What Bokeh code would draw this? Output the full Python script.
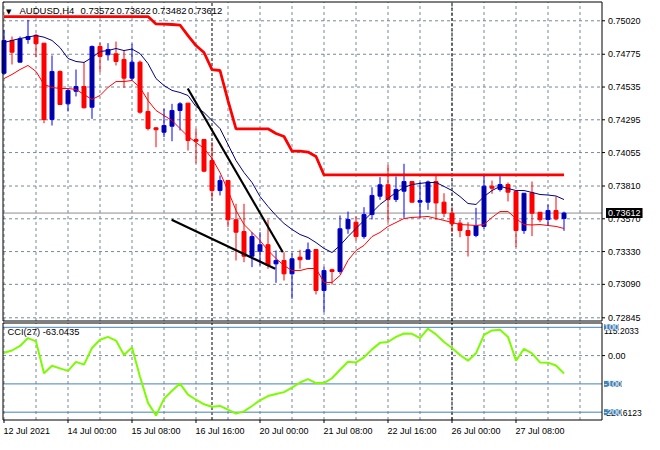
from bokeh.plotting import figure
from bokeh.models import ColumnDataSource, Range1d, Label
from bokeh.embed import file_html
from bokeh.resources import INLINE

# ---------------- data ----------------
symbol = "AUDUSD,H4"
open_ = [0.74636, 0.74876, 0.74717, 0.74883, 0.74914, 0.74856, 0.74297, 0.74649, 0.74412, 0.74504,
         0.74539, 0.74387, 0.74832, 0.74771, 0.74778, 0.74737, 0.74600, 0.74717, 0.74356, 0.74236,
         0.74204, 0.74248, 0.74363, 0.74417, 0.74151, 0.74151, 0.73997, 0.73777, 0.73850, 0.73563,
         0.73477, 0.73296, 0.73333, 0.73380, 0.73240, 0.73265, 0.73167, 0.73289, 0.73274, 0.73345,
         0.73045, 0.73197, 0.73184, 0.73497, 0.73545, 0.73440, 0.73601, 0.73736, 0.73819, 0.73711,
         0.73772, 0.73843, 0.73692, 0.73692, 0.73843, 0.73692, 0.73611, 0.73538, 0.73484, 0.73448,
         0.73514, 0.73809, 0.73785, 0.73821, 0.73770, 0.73484, 0.73760, 0.73618, 0.73565, 0.73631,
         0.73572]
high = [0.74954, 0.74905, 0.74905, 0.75027, 0.74925, 0.74856, 0.74766, 0.74656, 0.74522, 0.74663,
        0.74717, 0.74839, 0.74859, 0.74856, 0.74868, 0.74802, 0.74852, 0.74729, 0.74497, 0.74241,
        0.74376, 0.74412, 0.74424, 0.74417, 0.74229, 0.74151, 0.74131, 0.73887, 0.73850, 0.73680,
        0.73680, 0.73472, 0.73472, 0.73563, 0.73338, 0.73325, 0.73318, 0.73343, 0.73396, 0.73349,
        0.73219, 0.73204, 0.73594, 0.73623, 0.73587, 0.73655, 0.73801, 0.73875, 0.73965, 0.73880,
        0.73973, 0.73843, 0.73838, 0.73850, 0.73887, 0.73757, 0.73655, 0.73563, 0.73545, 0.73650,
        0.73900, 0.73850, 0.73882, 0.73836, 0.73770, 0.73757, 0.73843, 0.73618, 0.73675, 0.73733,
        0.73622]
low = [0.74627, 0.74700, 0.74715, 0.74852, 0.74753, 0.74270, 0.74253, 0.74407, 0.74356, 0.74466,
       0.74378, 0.74302, 0.74644, 0.74729, 0.74693, 0.74529, 0.74583, 0.74339, 0.74217, 0.74094,
       0.74168, 0.74138, 0.74217, 0.74070, 0.73977, 0.73911, 0.73724, 0.73741, 0.73508, 0.73265,
       0.73252, 0.73216, 0.73228, 0.73204, 0.73101, 0.73118, 0.72984, 0.73204, 0.73272, 0.73016,
       0.72886, 0.73089, 0.73167, 0.73460, 0.73411, 0.73424, 0.73565, 0.73709, 0.73545, 0.73692,
       0.73577, 0.73689, 0.73577, 0.73636, 0.73563, 0.73582, 0.73472, 0.73435, 0.73294, 0.73435,
       0.73497, 0.73753, 0.73770, 0.73697, 0.73362, 0.73460, 0.73443, 0.73545, 0.73521, 0.73558,
       0.73482]
close_ = [0.74876, 0.74790, 0.74888, 0.74905, 0.74852, 0.74297, 0.74649, 0.74407, 0.74510, 0.74539,
          0.74383, 0.74832, 0.74759, 0.74810, 0.74722, 0.74600, 0.74717, 0.74351, 0.74231, 0.74222,
          0.74253, 0.74363, 0.74412, 0.74143, 0.74138, 0.73919, 0.73777, 0.73850, 0.73563, 0.73472,
          0.73296, 0.73440, 0.73380, 0.73228, 0.73265, 0.73167, 0.73277, 0.73270, 0.73343, 0.73045,
          0.73191, 0.73184, 0.73497, 0.73565, 0.73440, 0.73601, 0.73741, 0.73819, 0.73711, 0.73785,
          0.73843, 0.73692, 0.73704, 0.73840, 0.73686, 0.73611, 0.73533, 0.73484, 0.73448, 0.73521,
          0.73809, 0.73794, 0.73821, 0.73765, 0.73484, 0.73757, 0.73611, 0.73563, 0.73631, 0.73569,
          0.73612]
ma_blue = [0.74861, 0.74876, 0.74890, 0.74901, 0.74912, 0.74900, 0.74876, 0.74824, 0.74744, 0.74722,
           0.74715, 0.74751, 0.74795, 0.74802, 0.74817, 0.74802, 0.74813, 0.74780, 0.74707, 0.74597,
           0.74546, 0.74510, 0.74495, 0.74473, 0.74392, 0.74348, 0.74290, 0.74231, 0.74114, 0.73997,
           0.73909, 0.73836, 0.73733, 0.73660, 0.73594, 0.73536, 0.73492, 0.73455, 0.73433, 0.73396,
           0.73353, 0.73323, 0.73375, 0.73440, 0.73499, 0.73558, 0.73616, 0.73675, 0.73719, 0.73763,
           0.73799, 0.73821, 0.73829, 0.73836, 0.73836, 0.73807, 0.73777, 0.73733, 0.73682, 0.73675,
           0.73733, 0.73777, 0.73807, 0.73792, 0.73777, 0.73777, 0.73763, 0.73748, 0.73744, 0.73737,
           0.73711]
ma_red = [0.74597, 0.74627, 0.74663, 0.74693, 0.74649, 0.74554, 0.74532, 0.74524, 0.74524, 0.74517,
          0.74480, 0.74444, 0.74473, 0.74532, 0.74575, 0.74575, 0.74583, 0.74532, 0.74436, 0.74363,
          0.74326, 0.74290, 0.74231, 0.74173, 0.74129, 0.74085, 0.74012, 0.73909, 0.73777, 0.73631,
          0.73528, 0.73470, 0.73411, 0.73338, 0.73279, 0.73228, 0.73191, 0.73191, 0.73206, 0.73206,
          0.73104, 0.73104, 0.73155, 0.73265, 0.73338, 0.73375, 0.73440, 0.73470, 0.73514, 0.73543,
          0.73572, 0.73580, 0.73583, 0.73587, 0.73572, 0.73558, 0.73543, 0.73528, 0.73525, 0.73521,
          0.73528, 0.73580, 0.73623, 0.73623, 0.73572, 0.73528, 0.73525, 0.73528, 0.73521, 0.73514,
          0.73499]
stop_line = [0.75051] * 19 + [0.74997, 0.74995, 0.74993, 0.74989, 0.74912, 0.74839, 0.74788,
                               0.74663, 0.74656, 0.74436, 0.74229, 0.74229, 0.74229, 0.74229,
                               0.74229, 0.74195, 0.74173, 0.74066, 0.74066, 0.74059, 0.74026] + [0.73891] * 31
cci = [10, 18, 34, 62, 50, -62, -36, -45, -54, -22,
       -32, 27, 56, 66, 53, 2, 29, -75, -167, -212,
       -153, -124, -99, -138, -156, -172, -181, -178, -191, -205,
       -197, -178, -158, -143, -136, -129, -113, -95, -83, -97,
       -97, -80, -50, -22, -24, -6, 22, 45, 48, 66,
       78, 77, 62, 95, 75, 48, 27, 2, -18, 8,
       73, 89, 91, 66, -18, 24, 8, -24, -25, -35,
       -63.0435]
cci_max = 115.2033
cci_min = -227.6123
cci_levels = [100, -100, -200]
cci_period = 27

price_ticks = [0.75020, 0.74775, 0.74535, 0.74295, 0.74055, 0.73810, 0.73570, 0.73330, 0.73090, 0.72845]
label_bars = [0, 8, 16, 24, 32, 40, 48, 56, 64]
time_labels = ["12 Jul 2021", "14 Jul 00:00", "15 Jul 08:00", "16 Jul 16:00", "20 Jul 00:00",
               "21 Jul 08:00", "22 Jul 16:00", "26 Jul 00:00", "27 Jul 08:00"]
separator_bars = [26, 56]
trend1_x = [22.97, 34.85]
trend1_y = [0.74524, 0.73325]
trend2_x = [20.95, 33.9]
trend2_y = [0.73563, 0.73204]

# ---------------- layout / styling (pixels) ----------------
W, H = 644, 434
BAR_PX, BAR0_PX = 8.0, 3.5
X_START = -BAR0_PX / BAR_PX
X_END = (W - BAR0_PX) / BAR_PX
P_PER_PX = 7.323e-5
P_TOP = 0.751686
P_BOT = P_TOP - H * P_PER_PX
MAIN_L, MAIN_R, MAIN_T, MAIN_B = 2.5, 601.5, 1.5, 320.5
CCI_T, CCI_B = 322.5, 419.5
C_PX = (CCI_B - CCI_T) / (cci_max - cci_min)
C_TOP = cci_max + CCI_T / C_PX
C_BOT = cci_min - (H - CCI_B) / C_PX

FONT = "Liberation Sans"
FS = "9.3px"
FS_H = "9.5px"
FS_T = "9px"
FS_R = "9px"
FS_RS = "8.5px"
GRID = "#778899"
LEVEL = "#4682B4"
grid_bars = list(range(0, 73, 4))
HEADER_X = [16.5, 77.5, 113.5, 149.2, 185]   # pixel offsets of the header pieces


def bx(px):
    return X_START + px / BAR_PX


def pp(py):
    return P_TOP - py * P_PER_PX


def cc(py):
    return C_TOP - py / C_PX


n = len(close_)
bars = list(range(n))

p = figure(width=W, height=H, x_range=Range1d(X_START, X_END), y_range=Range1d(P_BOT, P_TOP),
           output_backend="svg", toolbar_location=None, x_axis_location=None,
           y_axis_location=None, min_border=0, title=None)
p.extra_y_ranges = {"cci": Range1d(C_BOT, C_TOP)}
p.grid.visible = False
p.outline_line_color = None
p.background_fill_color = "white"
p.border_fill_color = "white"


def txt(x, y, text, dx=0, dy=0, size=FS, color="black", align="left", base="middle",
        bg=None, pad=0, rng="default", font=FONT):
    p.add_layout(Label(x=x, y=y, x_offset=dx, y_offset=dy, text=text, text_font=font,
                       text_font_size=size, text_color=color, text_align=align,
                       text_baseline=base, background_fill_color=bg, padding=pad,
                       y_range_name=rng))


# ---- main panel: grid, separators, bid line ----
nv = len(grid_bars)
p.segment(x0=grid_bars, x1=grid_bars, y0=[pp(MAIN_B)] * nv, y1=[pp(MAIN_T)] * nv,
          line_color=GRID, line_dash="3 3", line_width=1)
nh = len(price_ticks)
p.segment(x0=[bx(MAIN_L)] * nh, x1=[bx(MAIN_R)] * nh, y0=price_ticks, y1=price_ticks,
          line_color=GRID, line_dash="3 3", line_width=1)
ns = len(separator_bars)
p.segment(x0=separator_bars, x1=separator_bars, y0=[pp(MAIN_B)] * ns, y1=[pp(MAIN_T)] * ns,
          line_color="black", line_dash="3 2", line_width=1)
p.segment(x0=[bx(MAIN_L)], x1=[bx(MAIN_R)], y0=[close_[-1]], y1=[close_[-1]],
          line_color="#8C8C8C", line_width=1)

# ---- candles ----
up = [c >= o for o, c in zip(open_, close_)]
src = ColumnDataSource(dict(
    x=bars, h=high, l=low,
    top=[max(o, c) for o, c in zip(open_, close_)],
    bot=[min(o, c) for o, c in zip(open_, close_)],
    lc=["#0000FF" if u else "#FF0000" for u in up],
    fc=["#00008B" if u else "#FF0000" for u in up],
))
p.segment(x0="x", y0="h", x1="x", y1="l", line_color="lc", line_width=1, source=src)
p.vbar(x="x", width=0.5, top="top", bottom="bot", fill_color="fc", line_color="lc",
       line_width=1, source=src)

# ---- indicators and drawn objects ----
p.line(bars, ma_blue, line_color="#000080", line_width=1)
p.line(bars, ma_red, line_color="#FF0000", line_width=1)
p.line(bars, stop_line, line_color="#FF0000", line_width=2.8)
p.line(trend1_x, trend1_y, line_color="black", line_width=2.2)
p.line(trend2_x, trend2_y, line_color="black", line_width=2.2)

# ---- main border, ticks ----
p.quad(left=[bx(MAIN_L)], right=[bx(MAIN_R)], top=[pp(MAIN_T)], bottom=[pp(MAIN_B)],
       fill_color=None, line_color="black", line_width=1)
p.segment(x0=[bx(MAIN_R)] * nh, x1=[bx(MAIN_R + 3)] * nh, y0=price_ticks, y1=price_ticks,
          line_color="black", line_width=1)

# ---- CCI panel ----
p.segment(x0=grid_bars, x1=grid_bars, y0=[cci_min] * nv, y1=[cci_max] * nv,
          line_color=GRID, line_dash="3 3", line_width=1, y_range_name="cci")
p.segment(x0=[bx(MAIN_L)], x1=[bx(MAIN_R)], y0=[0], y1=[0],
          line_color=GRID, line_dash="3 3", line_width=1, y_range_name="cci")
p.segment(x0=separator_bars, x1=separator_bars, y0=[cci_min] * ns, y1=[cci_max] * ns,
          line_color="black", line_dash="3 2", line_width=1, y_range_name="cci")
nl = len(cci_levels)
p.segment(x0=[bx(MAIN_L)] * nl, x1=[bx(MAIN_R)] * nl, y0=cci_levels, y1=cci_levels,
          line_color=LEVEL, line_width=1, y_range_name="cci")
p.line(bars, cci, line_color="#7CFC00", line_width=2, y_range_name="cci")
p.quad(left=[bx(MAIN_L)], right=[bx(MAIN_R)], top=[cci_max], bottom=[cci_min],
       fill_color=None, line_color="black", line_width=1, y_range_name="cci")
p.segment(x0=[bx(MAIN_R)], x1=[bx(MAIN_R + 3)], y0=[0], y1=[0],
          line_color="black", line_width=1, y_range_name="cci")
tick_x = [max(b, bx(MAIN_L) + 0.1) for b in label_bars]
nt = len(tick_x)
p.segment(x0=tick_x, x1=tick_x, y0=[cci_min] * nt, y1=[cc(CCI_B + 3)] * nt,
          line_color="black", line_width=1, y_range_name="cci")

# ---- texts ----
header_parts = [symbol, f"{open_[-1]:.5f}", f"{high[-1]:.5f}", f"{low[-1]:.5f}", f"{close_[-1]:.5f}"]
for hx, part in zip(HEADER_X, header_parts):
    txt(bx(MAIN_L), pp(MAIN_T), part, dx=hx, dy=-8.5, size=FS_H)
txt(bx(MAIN_L), pp(MAIN_T), "\u25bc", dx=3, dy=-9.5, size="7px", font="DejaVu Sans")

for t in price_ticks:
    txt(bx(MAIN_R), t, f"{t:.5f}", dx=6, size=FS_R)
txt(bx(MAIN_R), close_[-1], f"{close_[-1]:.5f}", dx=4, size=FS_R, color="white",
    bg="black", pad=2)

txt(bx(MAIN_L), cci_max, f"CCI({cci_period}) {cci[-1]:.4f}", dx=4.5, dy=-8.5, rng="cci")
txt(bx(MAIN_R), 0, "0.00", dx=6, size=FS_R, rng="cci")
txt(bx(MAIN_R), cci_max, f"{cci_max:.4f}", dx=2, dy=-8, size=FS_RS, rng="cci")
txt(bx(MAIN_R), cci_min, f"{cci_min:.4f}", dx=1.5, dy=7, size=FS_RS, rng="cci")
for lv in cci_levels:
    txt(bx(MAIN_R), lv, f"{lv}", dx=2, size=FS_R, color="white", bg=LEVEL, pad=0, rng="cci")

for b, t in zip(tick_x, time_labels):
    txt(b, cci_min, t, dx=-0.5, dy=-10.5, size=FS_T, base="alphabetic", rng="cci")

open("out.html", "w").write(file_html(p, INLINE))
